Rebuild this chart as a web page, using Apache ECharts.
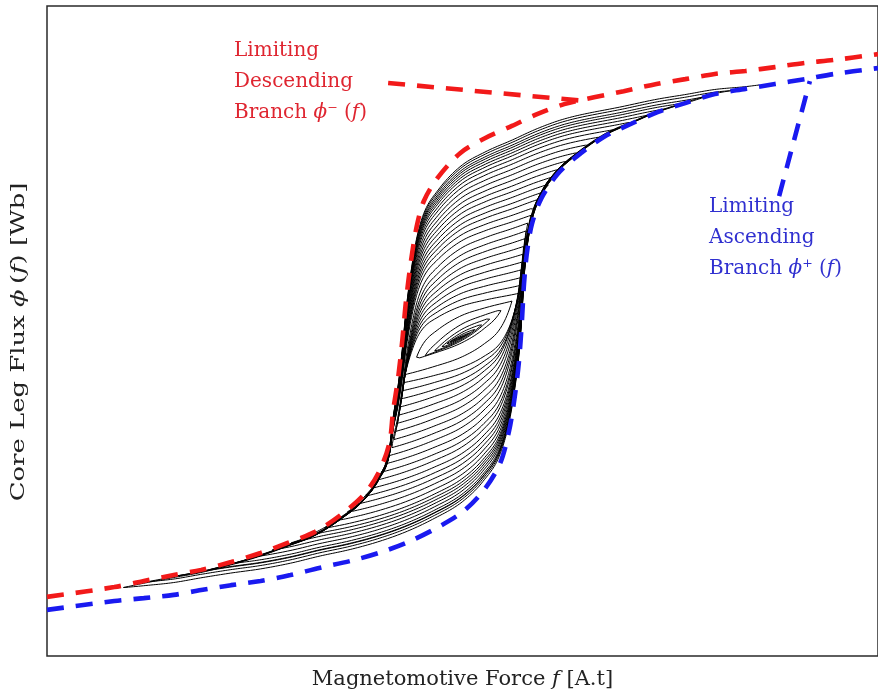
<!DOCTYPE html>
<html>
<head>
<meta charset="utf-8">
<script src="https://cdn.jsdelivr.net/npm/echarts@6/dist/echarts.min.js"></script>
<style>
  html, body { margin: 0; padding: 0; background: #fff; }
  #chart { width: 878px; height: 698px; }
</style>
</head>
<body>
<div id="chart"></div>
<script>
// Limiting descending branch phi-(f): field f (normalised) and flux phi (normalised)
const descLimitF = [-1.000, -0.838, -0.767, -0.695, -0.629, -0.557, -0.486, -0.421, -0.355, -0.290,
  -0.236, -0.200, -0.176, -0.167, -0.155, -0.145, -0.136, -0.124, -0.110, -0.093, -0.060, -0.005,
  0.055, 0.119, 0.181, 0.245, 0.388, 0.467, 0.536, 0.607, 0.681, 0.752, 0.824, 0.895, 1.000];
const descLimitPhi = [-0.818, -0.788, -0.769, -0.751, -0.735, -0.711, -0.683, -0.652, -0.618, -0.563,
  -0.502, -0.431, -0.345, -0.246, -0.145, -0.031, 0.092, 0.215, 0.323, 0.400, 0.471, 0.548,
  0.594, 0.631, 0.668, 0.698, 0.738, 0.760, 0.775, 0.791, 0.800, 0.812, 0.825, 0.834, 0.852];

// Limiting ascending branch phi+(f)
const ascLimitF = [-1.000, -0.838, -0.767, -0.695, -0.629, -0.557, -0.486, -0.414, -0.345, -0.271,
  -0.202, -0.136, -0.071, 0.000, 0.050, 0.090, 0.112, 0.126, 0.136, 0.143, 0.148, 0.155, 0.167,
  0.190, 0.229, 0.276, 0.340, 0.405, 0.471, 0.538, 0.607, 0.681, 0.752, 0.824, 0.895, 1.000];
const ascLimitPhi = [-0.858, -0.831, -0.822, -0.812, -0.797, -0.782, -0.769, -0.751, -0.729, -0.708,
  -0.683, -0.652, -0.612, -0.557, -0.492, -0.409, -0.308, -0.200, -0.092, 0.031, 0.145, 0.240, 0.329,
  0.409, 0.483, 0.538, 0.597, 0.637, 0.674, 0.702, 0.729, 0.745, 0.760, 0.775, 0.791, 0.809];

// Turning points of the decaying excitation: upper (positive) reversals ...
const upperTurnF = [0.714, 0.650, 0.590, 0.540, 0.490, 0.445, 0.405, 0.370, 0.335, 0.305, 0.280, 0.258,
  0.238, 0.222, 0.208, 0.196, 0.180, 0.173, 0.165, 0.157, 0.153, 0.150, 0.147, 0.145, 0.143, 0.141,
  0.140, 0.138, 0.136, 0.119, 0.094, 0.070, 0.049, 0.031, 0.017, 0.007];
const upperTurnPhi = [0.757, 0.740, 0.722, 0.703, 0.684, 0.664, 0.643, 0.621, 0.598, 0.574, 0.550, 0.525,
  0.500, 0.476, 0.452, 0.428, 0.404, 0.380, 0.356, 0.332, 0.308, 0.284, 0.260, 0.236, 0.212, 0.188,
  0.164, 0.140, 0.116, 0.092, 0.066, 0.042, 0.022, 0.006, -0.006, -0.014];
// ... and lower (negative) reversals
const lowerTurnF = [-0.819, -0.760, -0.690, -0.610, -0.555, -0.505, -0.460, -0.415, -0.375, -0.335,
  -0.305, -0.280, -0.258, -0.236, -0.218, -0.206, -0.194, -0.186, -0.178, -0.170, -0.165, -0.161,
  -0.157, -0.154, -0.151, -0.148, -0.145, -0.142, -0.138, -0.112, -0.090, -0.070, -0.054, -0.042,
  -0.033, -0.026];
const lowerTurnPhi = [-0.790, -0.772, -0.754, -0.735, -0.716, -0.696, -0.675, -0.653, -0.631, -0.608,
  -0.584, -0.559, -0.534, -0.509, -0.484, -0.459, -0.434, -0.409, -0.384, -0.359, -0.334, -0.309,
  -0.284, -0.259, -0.234, -0.209, -0.184, -0.159, -0.134, -0.086, -0.076, -0.064, -0.053, -0.043,
  -0.036, -0.030];

// Leader lines from the labels to the limiting branches
const descLeaderF = [-0.179, 0.293];
const descLeaderPhi = [0.763, 0.708];
const ascLeaderF = [0.762, 0.836];
const ascLeaderPhi = [0.415, 0.769];

const STEP = 0.0015;

// Monotone cubic through the sampled limiting branch
function monotone(xs, ys) {
  const n = xs.length, d = [], m = new Array(n);
  for (let i = 0; i < n - 1; i++) d.push((ys[i + 1] - ys[i]) / (xs[i + 1] - xs[i]));
  m[0] = d[0]; m[n - 1] = d[n - 2];
  for (let i = 1; i < n - 1; i++) m[i] = d[i - 1] * d[i] <= 0 ? 0 : (d[i - 1] + d[i]) / 2;
  for (let i = 0; i < n - 1; i++) {
    if (d[i] === 0) { m[i] = m[i + 1] = 0; continue; }
    const a = m[i] / d[i], b = m[i + 1] / d[i], s = a * a + b * b;
    if (s > 9) { const t = 3 / Math.sqrt(s); m[i] = t * a * d[i]; m[i + 1] = t * b * d[i]; }
  }
  return function (x) {
    if (x <= xs[0]) return ys[0] + m[0] * (x - xs[0]);
    if (x >= xs[n - 1]) return ys[n - 1] + m[n - 1] * (x - xs[n - 1]);
    let i = 0;
    while (x > xs[i + 1]) i++;
    const h = xs[i + 1] - xs[i], t = (x - xs[i]) / h, t2 = t * t, t3 = t2 * t;
    return (2 * t3 - 3 * t2 + 1) * ys[i] + (t3 - 2 * t2 + t) * h * m[i] +
      (-2 * t3 + 3 * t2) * ys[i + 1] + (t3 - t2) * h * m[i + 1];
  };
}

const phiDesc = monotone(descLimitF, descLimitPhi);
const phiAsc = monotone(ascLimitF, ascLimitPhi);

// Branch between two reversal points, shaped like the limiting branch `shape`
// and rescaled in flux so that it joins both points.
function reversalBranch(fa, pa, fb, pb, shape) {
  const sa = shape(fa), k = (pb - pa) / (shape(fb) - sa);
  const n = Math.max(1, Math.ceil(Math.abs(fb - fa) / STEP));
  const h = (fb - fa) / n;
  const pts = [];
  for (let i = 0; i <= n; i++) {
    const f = fa + h * i;
    pts.push([f, pa + k * (shape(f) - sa)]);
  }
  return pts;
}

const loopPath = [];
for (let k = 0; k < upperTurnF.length; k++) {
  loopPath.push(...reversalBranch(upperTurnF[k], upperTurnPhi[k], lowerTurnF[k], lowerTurnPhi[k], phiDesc));
  if (k + 1 < upperTurnF.length) {
    loopPath.push(...reversalBranch(lowerTurnF[k], lowerTurnPhi[k], upperTurnF[k + 1], upperTurnPhi[k + 1], phiAsc));
  }
}

const zip = (a, b) => a.map((v, i) => [v, b[i]]);
const SERIF = '"DejaVu Serif", "Liberation Serif", serif';
const RED = '#f21a1a', BLUE = '#1a1af0';
const RED_TEXT = '#df2530', BLUE_TEXT = '#3030d0';
const dashed = (color) => ({ color, width: 4.6, type: [17, 12], cap: 'butt' });
const labelText = (color) => ({ fill: color, fontFamily: SERIF, fontSize: 20, lineHeight: 31,
  rich: { i: { fontFamily: SERIF, fontSize: 20, fontStyle: 'italic', fill: color, lineHeight: 31 } } });

const chart = echarts.init(document.getElementById('chart'), null, { renderer: 'canvas' });
chart.setOption({
  animation: false,
  backgroundColor: '#fff',
  grid: { left: 47, top: 6, width: 840, height: 650, show: true, borderColor: '#2a2a2a', borderWidth: 1.5, backgroundColor: 'transparent' },
  xAxis: {
    type: 'value', min: -1, max: 1,
    axisLine: { show: false }, axisTick: { show: false }, axisLabel: { show: false }, splitLine: { show: false },
    name: 'Magnetomotive Force {i|f} [A.t]', nameLocation: 'middle', nameGap: 13,
    nameTextStyle: { fontFamily: SERIF, fontSize: 21, color: '#222',
      rich: { i: { fontFamily: SERIF, fontSize: 21, fontStyle: 'italic', color: '#222' } } }
  },
  yAxis: {
    type: 'value', min: -1, max: 1,
    axisLine: { show: false }, axisTick: { show: false }, axisLabel: { show: false }, splitLine: { show: false }
  },
  series: [
    { name: 'minor loops', type: 'line', data: loopPath, showSymbol: false, sampling: 'none',
      lineStyle: { color: '#000', width: 1.0 }, z: 2, silent: true },
    { name: 'limiting descending', type: 'line', data: zip(descLimitF, descLimitPhi), showSymbol: false,
      smooth: 0.3, lineStyle: dashed(RED), z: 3, silent: true },
    { name: 'limiting ascending', type: 'line', data: zip(ascLimitF, ascLimitPhi), showSymbol: false,
      smooth: 0.3, lineStyle: dashed(BLUE), z: 3, silent: true },
    { name: 'descending leader', type: 'line', data: zip(descLeaderF, descLeaderPhi), showSymbol: false,
      lineStyle: dashed(RED), z: 3, silent: true },
    { name: 'ascending leader', type: 'line', data: zip(ascLeaderF, ascLeaderPhi), showSymbol: false,
      lineStyle: dashed(BLUE), z: 3, silent: true }
  ],
  graphic: [
    { type: 'text', x: 19, y: 342, rotation: Math.PI / 2, scaleX: 1.4, z: 10,
      style: { text: 'Core Leg Flux {i|ϕ}\u2009({i|f}) [Wb]', align: 'center', verticalAlign: 'middle',
        fill: '#222', fontFamily: SERIF, fontSize: 18.5,
        rich: { i: { fontFamily: SERIF, fontSize: 18.5, fontStyle: 'italic', fill: '#222' } } } },
    { type: 'text', left: 234, top: 35, z: 10,
      style: Object.assign({ text: 'Limiting\nDescending\nBranch {i|ϕ}⁻ ({i|f})' }, labelText(RED_TEXT)) },
    { type: 'text', left: 709, top: 191, z: 10,
      style: Object.assign({ text: 'Limiting\nAscending\nBranch {i|ϕ}⁺ ({i|f})' }, labelText(BLUE_TEXT)) }
  ]
});
</script>
</body>
</html>
